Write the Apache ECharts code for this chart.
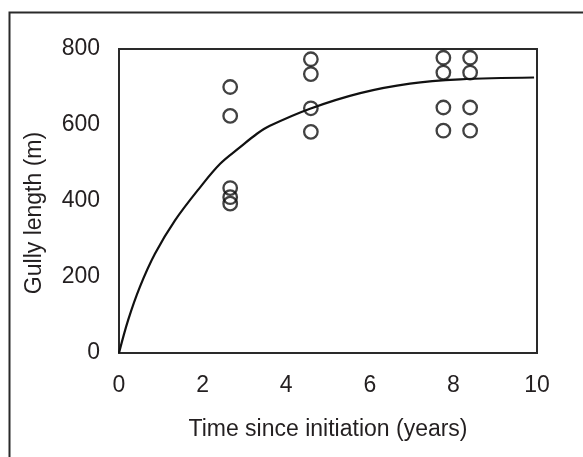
<!DOCTYPE html>
<html>
<head>
<meta charset="utf-8">
<script src="https://cdn.jsdelivr.net/npm/echarts@6/dist/echarts.min.js"></script>
<style>
  html, body { margin: 0; padding: 0; background: #fff; }
  #chart { width: 583px; height: 457px; }
</style>
</head>
<body>
<div id="chart"></div>
<script>
// observed gully lengths
var obsTime = [2.66, 2.66, 2.66, 2.66, 2.66, 4.59, 4.59, 4.59, 4.59, 7.76, 7.76, 7.76, 7.76, 8.4, 8.4, 8.4, 8.4]
var obsLength = [700, 624, 434, 410, 393, 773, 734, 644, 582, 777, 738, 646, 585, 777, 738, 646, 585]

// fitted curve
var curveTime = [0, 0.22, 0.5, 0.86, 1.34, 1.94, 2.42, 2.89, 3.3, 3.61, 4.57, 5.77, 6.96, 8.16, 9.93]
var curveLength = [0, 87, 174, 261, 349, 436, 498, 541, 577, 598, 643, 684, 709, 720, 725]

var xTicks = [0, 2, 4, 6, 8, 10]
var yTicks = [0, 200, 400, 600, 800]

var ink = '#231f20'
var font = 'Arial, "Liberation Sans", sans-serif'

var chart = echarts.init(document.getElementById('chart'))

var scatterData = []
for (var i = 0; i < obsTime.length; i++) {
  scatterData.push([obsTime[i], obsLength[i]])
}
var lineData = []
for (var j = 0; j < curveTime.length; j++) {
  lineData.push([curveTime[j], curveLength[j]])
}

var option = {
  animation: false,
  backgroundColor: '#fff',
  textStyle: { fontFamily: font, color: ink },
  graphic: [
    {
      // outer frame, runs off the right and bottom edges
      type: 'rect',
      left: 7, top: 10,
      shape: { width: 640, height: 520 },
      style: { fill: 'none', stroke: '#2a2a2a', lineWidth: 2 },
      z: 0
    }
  ],
  grid: {
    left: 119, right: 46, top: 49, bottom: 104,
    show: true,
    borderColor: '#2a2a2a',
    borderWidth: 2
  },
  xAxis: {
    type: 'value',
    min: xTicks[0],
    max: xTicks[xTicks.length - 1],
    interval: xTicks[1] - xTicks[0],
    name: 'Time since initiation (years)',
    nameLocation: 'middle',
    nameGap: 65,
    nameTextStyle: { fontSize: 23, color: ink, fontFamily: font },
    axisLine: { show: false },
    axisTick: { show: false },
    splitLine: { show: false },
    axisLabel: { fontSize: 23, color: ink, margin: 21, fontFamily: font }
  },
  yAxis: {
    type: 'value',
    min: yTicks[0],
    max: yTicks[yTicks.length - 1],
    interval: yTicks[1] - yTicks[0],
    name: 'Gully length (m)',
    nameLocation: 'middle',
    nameGap: 73,
    nameTextStyle: { fontSize: 23, color: ink, fontFamily: font, padding: [0, 24, 0, 0] },
    axisLine: { show: false },
    axisTick: { show: false },
    splitLine: { show: false },
    axisLabel: { fontSize: 23, color: ink, margin: 19, fontFamily: font }
  },
  series: [
    {
      name: 'fit',
      type: 'line',
      data: lineData,
      smooth: 0.35,
      showSymbol: false,
      lineStyle: { color: '#111', width: 2.2 },
      z: 2
    },
    {
      name: 'observed',
      type: 'scatter',
      data: scatterData,
      symbol: 'circle',
      symbolSize: 13.5,
      itemStyle: { color: 'rgba(0,0,0,0)', borderColor: '#111', borderWidth: 2.3 },
      z: 3
    }
  ]
}

chart.setOption(option)
</script>
</body>
</html>
